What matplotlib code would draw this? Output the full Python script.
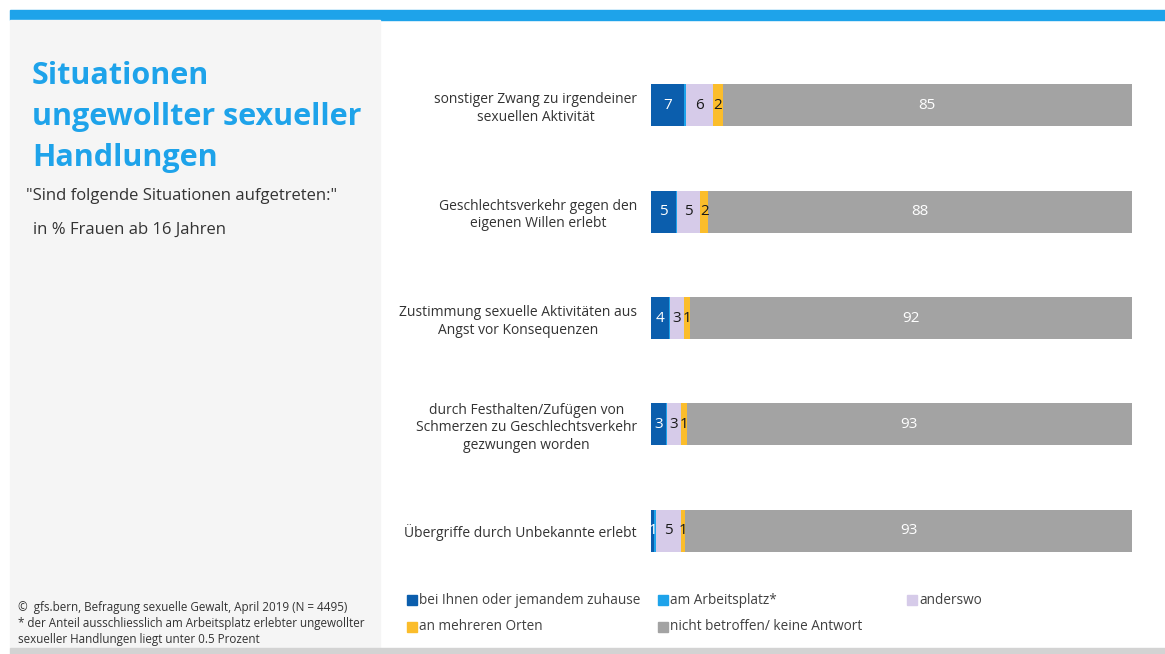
import matplotlib.pyplot as plt
import matplotlib.patches as patches

plt.rcParams['font.family'] = ['Open Sans', 'DejaVu Sans']

# -------------------------------
# Daten
# -------------------------------
kategorien = [
    "sonstiger Zwang zu irgendeiner\nsexuellen Aktivität",
    "Geschlechtsverkehr gegen den\neigenen Willen erlebt",
    "Zustimmung sexuelle Aktivitäten aus\nAngst vor Konsequenzen",
    "durch Festhalten/Zufügen von\nSchmerzen zu Geschlechtsverkehr\ngezwungen worden",
    "Übergriffe durch Unbekannte erlebt",
]
serien = ["bei Ihnen oder jemandem zuhause", "am Arbeitsplatz*", "anderswo",
          "an mehreren Orten", "nicht betroffen/ keine Antwort"]
zuhause = [6.8, 5.2, 3.7, 3.1, 0.7]
arbeitsplatz = [0.4, 0.3, 0.2, 0.2, 0.4]
anderswo = [5.6, 4.7, 2.9, 2.9, 5.2]
mehrere = [2.1, 1.7, 1.3, 1.2, 0.8]
nicht = [85.1, 88.1, 91.9, 92.6, 92.9]

werte = [zuhause, arbeitsplatz, anderswo, mehrere, nicht]
farben = ["#0b5ead", "#1ea3ea", "#d6cbe9", "#fbbd2b", "#a3a3a3"]
textfarben = ["white", "white", "#1a1a1a", "#1a1a1a", "white"]

W, H = 1165, 654
fig = plt.figure(figsize=(W / 100, H / 100), dpi=100)

def rect_px(x0, y0, x1, y1, color):
    fig.patches.append(patches.Rectangle((x0 / W, 1 - y1 / H), (x1 - x0) / W, (y1 - y0) / H,
                                         transform=fig.transFigure, color=color, zorder=0))

# Hintergrund-Elemente
rect_px(10, 10, 1165, 20, "#1ea3ea")
rect_px(10, 20, 380, 648, "#f5f5f5")
rect_px(10, 648, 1165, 654, "#d3d3d3")

# Titel und Untertitel
for i, zeile in enumerate(["Situationen", "ungewollter sexueller", "Handlungen"]):
    fig.text(32 / W, 1 - (76 + 41 * i) / H, zeile, color="#1ea3ea",
             fontsize=22, fontweight="bold", va="center", ha="left")
fig.text(26 / W, 1 - 196 / H, "\"Sind folgende Situationen aufgetreten:\"", fontsize=12,
         color="#333333", va="center")
fig.text(33 / W, 1 - 230 / H, "in % Frauen ab 16 Jahren", fontsize=12,
         color="#333333", va="center")

# Fussnote
fussnote = ["©  gfs.bern, Befragung sexuelle Gewalt, April 2019 (N = 4495)",
            "* der Anteil ausschliesslich am Arbeitsplatz erlebter ungewollter",
            "sexueller Handlungen liegt unter 0.5 Prozent"]
for i, zeile in enumerate(fussnote):
    fig.text(18 / W, 1 - (608 + 15.5 * i) / H, zeile, fontsize=8.4, color="#333333", va="center")

# -------------------------------
# Balken
# -------------------------------
ax = fig.add_axes([651 / W, 1 - 584 / H, 481 / W, 532 / H])
ypos = list(range(len(kategorien)))
links = [0] * len(kategorien)
for werte_s, farbe, tf in zip(werte, farben, textfarben):
    ax.barh(ypos, werte_s, left=links, height=0.395, color=farbe, edgecolor="none")
    for y, l, v in zip(ypos, links, werte_s):
        if v >= 0.5:
            ax.text(l + v / 2, y, f"{round(v)}", ha="center", va="center",
                    color=tf, fontsize=11)
    links = [a + b for a, b in zip(links, werte_s)]

ax.set_xlim(0, 100)
ax.set_ylim(len(kategorien) - 0.5, -0.5)
ax.set_yticks(ypos)
ax.set_yticklabels(kategorien, fontsize=10, color="#333333", multialignment="center",
                   linespacing=1.25)
ax.tick_params(axis="y", length=0, pad=10)
ax.set_xticks([])
for s in ax.spines.values():
    s.set_visible(False)
ax.patch.set_alpha(0)

# Legende
legende_pos = [(407, 600), (658, 600), (907, 600), (407, 627), (658, 627)]
for (lx, ly), name, farbe in zip(legende_pos, serien, farben):
    rect_px(lx, ly - 5, lx + 10, ly + 5, farbe)
    fig.text((lx + 12) / W, 1 - ly / H, name, fontsize=9.8, color="#404040", va="center")

plt.savefig("out.png", dpi=100)
plt.close()
